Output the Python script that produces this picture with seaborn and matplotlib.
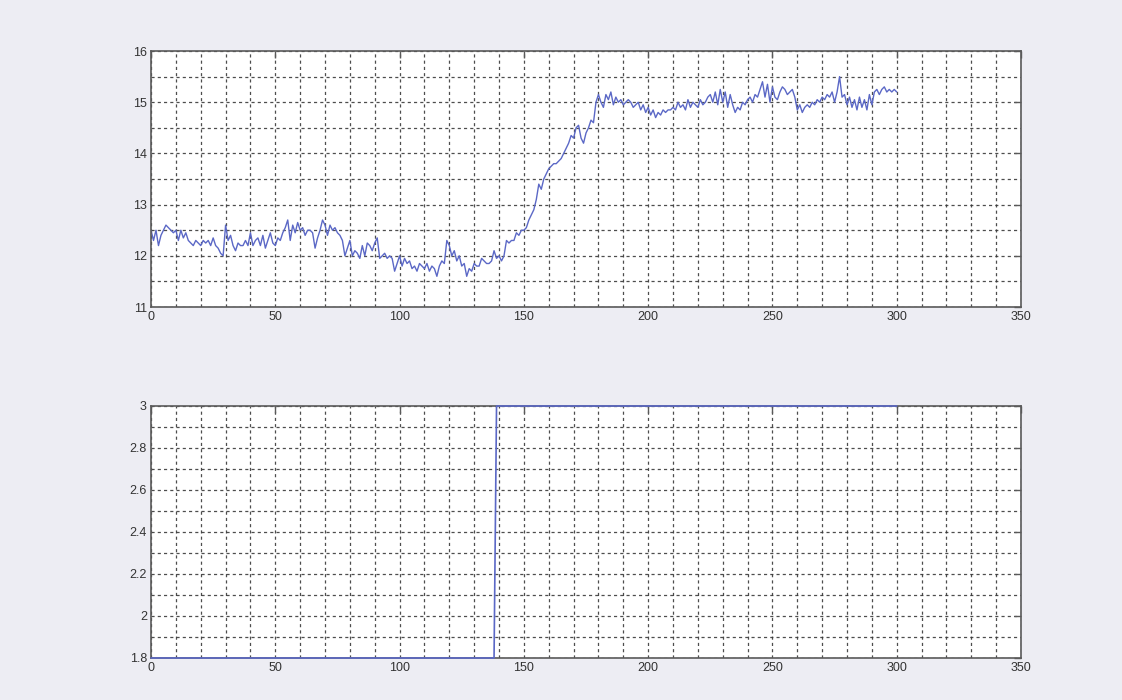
import numpy as np
import pandas as pd
import matplotlib
matplotlib.use("Agg")
import matplotlib.pyplot as plt
from matplotlib.ticker import MultipleLocator, FormatStrFormatter
import seaborn as sns

# ---- data ----
top_y = [
    12.5, 12.3, 12.5, 12.2, 12.4, 12.5, 12.6, 12.55, 12.5, 12.45,
    12.5, 12.3, 12.5, 12.35, 12.45, 12.3, 12.25, 12.2, 12.3, 12.25,
    12.2, 12.3, 12.25, 12.3, 12.2, 12.35, 12.2, 12.15, 12.05, 12.0,
    12.6, 12.3, 12.4, 12.2, 12.1, 12.25, 12.2, 12.2, 12.3, 12.2,
    12.45, 12.2, 12.3, 12.35, 12.2, 12.4, 12.15, 12.3, 12.45, 12.25,
    12.2, 12.35, 12.3, 12.45, 12.55, 12.7, 12.3, 12.6, 12.45, 12.65,
    12.5, 12.55, 12.4, 12.5, 12.5, 12.45, 12.15, 12.35, 12.5, 12.7,
    12.6, 12.4, 12.6, 12.5, 12.55, 12.45, 12.4, 12.3, 12.0, 12.15,
    12.3, 12.0, 12.1, 12.05, 11.95, 12.2, 12.0, 12.25, 12.2, 12.1,
    12.25, 12.35, 11.95, 12.0, 12.05, 11.95, 12.0, 11.95, 11.7, 11.85,
    12.0, 11.8, 11.95, 11.85, 11.9, 11.75, 11.8, 11.7, 11.85, 11.8,
    11.75, 11.85, 11.7, 11.8, 11.75, 11.6, 11.8, 11.9, 11.85, 12.3,
    12.2, 12.0, 12.1, 11.9, 12.0, 11.8, 11.85, 11.6, 11.75, 11.7,
    11.85, 11.8, 11.8, 11.95, 11.9, 11.85, 11.85, 11.9, 12.1, 11.95,
    12.0, 11.9, 12.0, 12.3, 12.25, 12.3, 12.3, 12.45, 12.4, 12.5,
    12.5, 12.55, 12.7, 12.8, 12.9, 13.1, 13.4, 13.3, 13.5, 13.6,
    13.7, 13.75, 13.8, 13.8, 13.85, 13.9, 14.0, 14.1, 14.2, 14.35,
    14.3, 14.5, 14.55, 14.3, 14.2, 14.4, 14.5, 14.65, 14.6, 15.0,
    15.15, 15.0, 14.9, 15.15, 15.05, 15.2, 14.95, 15.1, 15.0, 15.05,
    14.95, 15.0, 15.05, 15.0, 14.9, 14.95, 15.0, 14.85, 14.95, 14.8,
    14.9, 14.75, 14.85, 14.7, 14.8, 14.75, 14.85, 14.8, 14.85, 14.85,
    14.9, 14.85, 15.0, 14.9, 14.95, 14.85, 15.05, 14.9, 15.0, 14.95,
    14.9, 15.05, 14.95, 15.0, 15.1, 15.15, 15.0, 15.2, 14.95, 15.25,
    15.0, 15.2, 14.9, 15.15, 14.95, 14.8, 14.9, 14.85, 15.0, 14.95,
    15.05, 15.1, 15.0, 15.15, 15.1, 15.25, 15.4, 15.1, 15.35, 15.0,
    15.3, 15.1, 15.05, 15.2, 15.3, 15.25, 15.15, 15.2, 15.25, 15.1,
    14.85, 14.95, 14.8, 14.9, 14.95, 14.9, 15.0, 14.95, 15.05, 15.0,
    15.1, 15.05, 15.15, 15.1, 15.2, 15.0, 15.2, 15.5, 15.1, 15.15,
    14.95, 15.1, 14.9, 15.05, 14.85, 15.1, 14.9, 15.05, 14.85, 15.15,
    14.95, 15.2, 15.25, 15.15, 15.25, 15.3, 15.2, 15.25, 15.2, 15.25,
    15.2,
]
top_x = list(range(len(top_y)))

bottom_x = [0, 138, 139, 300]
bottom_y = [1.8, 1.8, 3.0, 3.0]

x_ticks = [0, 50, 100, 150, 200, 250, 300, 350]
top_yticks = [11, 12, 13, 14, 15, 16]
bottom_yticks = [1.8, 2.0, 2.2, 2.4, 2.6, 2.8, 3.0]
bottom_ylabels = ["1.8", "2", "2.2", "2.4", "2.6", "2.8", "3"]

# ---- style ----
sns.set_style("white")
plt.rcParams["font.family"] = ["Liberation Sans", "DejaVu Sans"]

line_color = "#5b68c6"
grid_color = "#3a3a3a"
edge_color = "#5a5a5a"

fig = plt.figure(figsize=(11.22, 7.0), dpi=100)
fig.patch.set_facecolor("#ededf3")

ax1 = fig.add_axes([0.1346, 0.5614, 0.7754, 0.3657])
ax2 = fig.add_axes([0.1346, 0.0600, 0.7754, 0.3600])

df_top = pd.DataFrame({"x": top_x, "y": top_y})
df_bot = pd.DataFrame({"x": bottom_x, "y": bottom_y})

sns.lineplot(data=df_top, x="x", y="y", ax=ax1, estimator=None, sort=False,
             color=line_color, linewidth=1.0)
sns.lineplot(data=df_bot, x="x", y="y", ax=ax2, estimator=None, sort=False,
             color=line_color, linewidth=1.2, clip_on=False, zorder=5)

def style(ax, yticks, ylabels, ymin, ymax, yminor):
    ax.set_facecolor("white")
    ax.set_xlim(0, 350)
    ax.set_ylim(ymin, ymax)
    ax.set_xticks(x_ticks)
    ax.set_xticklabels([str(t) for t in x_ticks])
    ax.set_yticks(yticks)
    ax.set_yticklabels(ylabels)
    ax.xaxis.set_minor_locator(MultipleLocator(10))
    ax.yaxis.set_minor_locator(MultipleLocator(yminor))
    ax.grid(True, which="both", linestyle=(0, (2.5, 2.5)), color=grid_color,
            linewidth=0.9, alpha=0.9)
    ax.set_axisbelow(True)
    ax.tick_params(which="major", direction="in", length=5, width=1.0,
                   top=True, right=True, color=edge_color,
                   labelsize=9, labelcolor="#333333", pad=3)
    ax.tick_params(which="minor", length=0)
    for s in ax.spines.values():
        s.set_color(edge_color)
        s.set_linewidth(1.2)
        s.set_visible(True)
    ax.set_xlabel("")
    ax.set_ylabel("")

style(ax1, top_yticks, [str(t) for t in top_yticks], 11, 16, 0.5)
style(ax2, bottom_yticks, bottom_ylabels, 1.8, 3.0, 0.1)

fig.savefig("out.png", dpi=100, facecolor=fig.get_facecolor())
